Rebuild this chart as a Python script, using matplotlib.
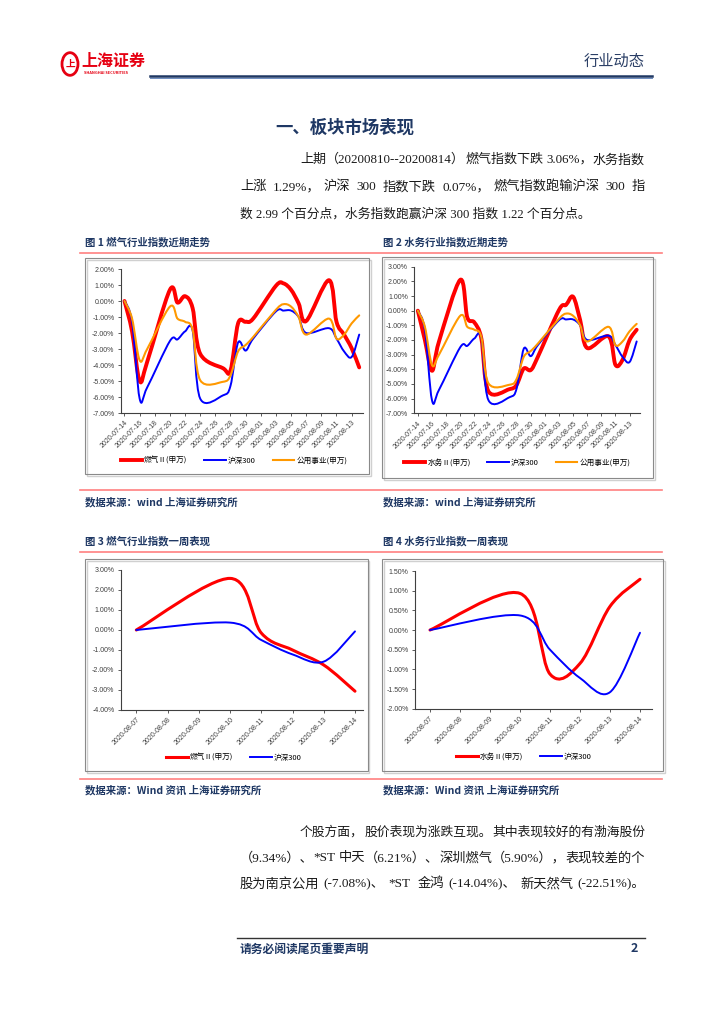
import matplotlib
matplotlib.use("Agg")
import matplotlib.pyplot as plt
import matplotlib.dates as mdates
from matplotlib.path import Path
from matplotlib.patches import PathPatch, Rectangle, Circle
from matplotlib.lines import Line2D
from matplotlib.ticker import FuncFormatter
from matplotlib.font_manager import FontProperties
import numpy as np
import pandas as pd

plt.rcParams['font.family'] = ['Noto Sans CJK SC', 'DejaVu Sans']

W, H = 724, 1024

# ---------------- data (涨跌幅, %) ----------------
month_dates = ['2020-07-14', '2020-07-15', '2020-07-16', '2020-07-17', '2020-07-20',
               '2020-07-21', '2020-07-22', '2020-07-23', '2020-07-24', '2020-07-27',
               '2020-07-28', '2020-07-29', '2020-07-30', '2020-07-31', '2020-08-03',
               '2020-08-04', '2020-08-05', '2020-08-06', '2020-08-07', '2020-08-10',
               '2020-08-11', '2020-08-12', '2020-08-13', '2020-08-14']
gas_month = [0, -1.9, -5.0, -3.8, 0.7, -0.1, 0.3, -0.45, -3.3, -4.2, -4.35, -1.4,
             -1.3, -1.1, 0.95, 1.1, 0.7, -0.15, -1.25, 1.3, -1.3, -2.1, -2.95, -4.15]
water_month = [0, -2.0, -4.1, -2.1, 2.1, -0.45, -0.8, -1.9, -5.5, -5.35, -5.05, -3.95,
               -4.05, -3.15, 0.05, 0.4, 0.95, -0.65, -2.55, -1.75, -3.7, -3.35, -2.0, -1.3]
hs300_month = [0, -1.3, -6.1, -5.4, -2.5, -2.4, -1.9, -1.85, -6.1, -5.9, -5.3, -2.6,
               -3.1, -2.35, -0.65, -0.6, -0.6, -1.0, -2.0, -1.7, -2.35, -3.15, -3.5, -2.1]
utility_month = [0, -1.1, -3.7, -3.0, -0.35, -1.1, -1.3, -1.8, -4.95, -5.05, -4.65, -3.15,
                 -2.75, -2.25, -0.55, -0.2, -0.35, -1.0, -2.1, -1.1, -2.35, -2.1, -1.4, -0.9]
month_ticks = ['2020-07-14', '2020-07-16', '2020-07-18', '2020-07-20', '2020-07-22',
               '2020-07-24', '2020-07-26', '2020-07-28', '2020-07-30', '2020-08-01',
               '2020-08-03', '2020-08-05', '2020-08-07', '2020-08-09', '2020-08-11',
               '2020-08-13']

week_dates = ['2020-08-07', '2020-08-10', '2020-08-11', '2020-08-12', '2020-08-13', '2020-08-14']
gas_week = [0, 2.58, -0.15, -1.0, -1.75, -3.06]
water_week = [0, 0.93, -1.12, -0.85, 0.6, 1.29]
hs300_week = [0, 0.37, -0.5, -1.22, -1.58, -0.07]
week_ticks = ['2020-08-07', '2020-08-08', '2020-08-09', '2020-08-10', '2020-08-11',
              '2020-08-12', '2020-08-13', '2020-08-14']

RED, BLUE, ORANGE = '#ff0000', '#0000ff', '#ff9900'
NAVY = '#1f3864'
PINK = '#ff8080'
BODY = ['Liberation Serif', 'Noto Sans CJK SC']
PUNCT = '，、。）；：'

fig = plt.figure(figsize=(7.24, 10.24), dpi=100)


def fx(x):
    return x / W


def fy(y):
    return 1 - y / H


def rect(l, t, r, b):
    return [l / W, 1 - b / H, (r - l) / W, (b - t) / H]


def hline(x0, x1, y, color, lw):
    fig.add_artist(Line2D([fx(x0), fx(x1)], [fy(y), fy(y)], color=color, lw=lw))


def box(l, t, r, b):
    fig.add_artist(Rectangle((fx(l + 1.5), fy(b + 1.5)), (r - l) / W, (b - t) / H,
                             transform=fig.transFigure, fill=False, edgecolor='#d0d0d0', lw=1))
    fig.add_artist(Rectangle((fx(l), fy(b)), (r - l) / W, (b - t) / H,
                             transform=fig.transFigure, fill=False, edgecolor='#8a8a8a', lw=0.8))


def smooth(ax, x, y, color, lw):
    # excel 风格平滑线 (Catmull-Rom -> Bezier)
    p = np.column_stack([np.asarray(x, float), np.asarray(y, float)])
    ext = np.vstack([p[0], p, p[-1]])
    verts, codes = [p[0]], [Path.MOVETO]
    for i in range(len(p) - 1):
        c1 = p[i] + (ext[i + 2] - ext[i]) / 6
        c2 = p[i + 1] - (ext[i + 3] - ext[i + 1]) / 6
        verts += [c1, c2, p[i + 1]]
        codes += [Path.CURVE4] * 3
    ax.add_patch(PathPatch(Path(verts, codes), fill=False, edgecolor=color, lw=lw,
                           capstyle='round', joinstyle='round'))


def chart(pos, dates, series, ylim, ystep, ticks, xpad, leg_xy, leg_gap):
    ax = fig.add_axes(pos)
    x = mdates.date2num(pd.to_datetime(dates))
    for vals, color, lw, _ in series:
        smooth(ax, x, vals, color, lw)
    ax.set_xlim(x[0] - 0.5, x[-1] + xpad)
    ax.set_ylim(*ylim)
    ax.set_yticks(np.arange(ylim[0], ylim[1] + ystep / 2, ystep))
    ax.yaxis.set_major_formatter(FuncFormatter(lambda v, _: f'{v:.2f}%'))
    ax.set_xticks(mdates.date2num(pd.to_datetime(ticks)))
    ax.set_xticklabels(ticks, rotation=45, ha='right', rotation_mode='anchor')
    for s in ['top', 'right']:
        ax.spines[s].set_visible(False)
    for s in ['left', 'bottom']:
        ax.spines[s].set_color('#404040')
        ax.spines[s].set_linewidth(0.8)
    ax.tick_params(labelsize=5, length=2.5, width=0.6, colors='#404040', pad=2)
    for lab in ax.get_xticklabels() + ax.get_yticklabels():
        lab.set_family(['Liberation Sans', 'DejaVu Sans'])
    handles = [Line2D([], [], color=c, lw=lw) for _, c, lw, _ in series]
    labels = [n for _, _, _, n in series]
    ax.legend(handles, labels, loc='center', bbox_to_anchor=(fx(leg_xy[0]), fy(leg_xy[1])),
              bbox_transform=fig.transFigure, ncol=len(series), frameon=False,
              fontsize=5.5, handlelength=2.8, handletextpad=0.3, columnspacing=leg_gap)
    return ax


def split_chunks(s):
    chunks, spaced, cur = [], [], ''
    for i, ch in enumerate(s):
        if ch == ' ':
            if cur:
                chunks.append(cur)
                spaced.append(True)
                cur = ''
            continue
        if ch in '(（' and cur and cur[-1] not in '(（':
            chunks.append(cur)
            spaced.append(False)
            cur = ''
        cur += ch
        nxt = s[i + 1] if i + 1 < len(s) else ''
        if ch in PUNCT and nxt and nxt not in PUNCT and nxt not in ' (（':
            chunks.append(cur)
            spaced.append(False)
            cur = ''
    if cur:
        chunks.append(cur)
    return chunks, spaced[:len(chunks) - 1]


def justify(s, x0, x1, y, size=9.2):
    # 两端对齐：在空格与标点处分段，余量均匀分配；必要时微调字号
    r = fig.canvas.get_renderer()
    chunks, spaced = split_chunks(s)
    target = x1 - x0
    n = len(chunks)

    def measure(sz):
        prop = FontProperties(family=BODY, size=sz)
        ws = [r.get_text_width_height_descent(c, prop, ismath=False)[0] for c in chunks]
        base = sum(spaced) * sz * 100 / 72 * 0.25
        return prop, ws, base

    prop, widths, base = measure(size)
    need = target / (sum(widths) + base)
    if n == 1:
        scale = min(max(need, 0.9), 1.1)
    elif need < 1:
        scale = need
    else:
        scale = min(need, 1.04)
    prop, widths, base = measure(size * scale)
    sp = size * scale * 100 / 72 * 0.25
    extra = (target - sum(widths) - base) / max(n - 1, 1)
    xc = x0
    for k, (c, w) in enumerate(zip(chunks, widths)):
        fig.text(fx(xc), fy(y), c, fontproperties=prop, color='#1a1a1a', va='center', ha='left')
        xc += w + extra + (sp if k < len(spaced) and spaced[k] else 0)


# ---------------- header ----------------
fig.add_artist(Circle((fx(70), fy(64)), 8 / W, transform=fig.transFigure,
                      fill=False, edgecolor='#e60012', lw=2))
fig.text(fx(70), fy(64), '上', color='#e60012', fontsize=7, fontweight='bold',
         ha='center', va='center')
fig.text(fx(81), fy(61), '上海证券', color='#e60012', fontsize=11.5, fontweight='bold',
         ha='left', va='center')
fig.text(fx(84), fy(73), 'SHANGHAI SECURITIES', color='#e60012', fontsize=2.8,
         fontweight='bold', ha='left', va='center')
fig.text(fx(645), fy(61), '行业动态', color='#2b3f66', fontsize=11, ha='right', va='center')
hline(150, 652, 75.5, NAVY, 1.8)
hline(150, 652, 77.5, '#6d8cc0', 0.7)

# ---------------- text ----------------
fig.text(fx(275), fy(128), '一、板块市场表现', color=NAVY, fontsize=12.5, fontweight='bold',
         ha='left', va='center')
justify('上期（20200810--20200814）燃气指数下跌 3.06%，水务指数', 300, 645, 160)
justify('上涨 1.29%，沪深 300 指数下跌 0.07%，燃气指数跑输沪深 300 指', 240, 645, 187)
fig.text(fx(240), fy(214), '数 2.99 个百分点，水务指数跑赢沪深 300 指数 1.22 个百分点。',
         family=BODY, fontsize=9.2, color='#1a1a1a', ha='left', va='center')

fig.text(fx(85), fy(242), '图 1 燃气行业指数近期走势', color=NAVY, fontsize=7.5,
         fontweight='bold', ha='left', va='center')
fig.text(fx(383), fy(242), '图 2 水务行业指数近期走势', color=NAVY, fontsize=7.5,
         fontweight='bold', ha='left', va='center')
hline(80, 662, 253, PINK, 1.2)

box(85, 258, 369, 474)
box(382, 257, 653, 478)

chart(rect(120.7, 269, 363, 413), month_dates,
      [(gas_month, RED, 2.8, '燃气Ⅱ(申万)'), (hs300_month, BLUE, 1.4, '沪深300'),
       (utility_month, ORANGE, 1.5, '公用事业(申万)')],
      (-7, 2), 1, month_ticks, 0.5, (234, 461), 2.2)
chart(rect(414.3, 266.7, 640.2, 413.3), month_dates,
      [(water_month, RED, 2.8, '水务Ⅱ(申万)'), (hs300_month, BLUE, 1.4, '沪深300'),
       (utility_month, ORANGE, 1.5, '公用事业(申万)')],
      (-7, 3), 1, month_ticks, 0.5, (517, 463), 2.2)

hline(80, 662, 490, PINK, 1.2)
fig.text(fx(85), fy(502), '数据来源：wind 上海证券研究所', color=NAVY, fontsize=7.5,
         fontweight='bold', style='italic', ha='left', va='center')
fig.text(fx(383), fy(502), '数据来源：wind 上海证券研究所', color=NAVY, fontsize=7.5,
         fontweight='bold', style='italic', ha='left', va='center')

fig.text(fx(85), fy(541), '图 3 燃气行业指数一周表现', color=NAVY, fontsize=7.5,
         fontweight='bold', ha='left', va='center')
fig.text(fx(383), fy(541), '图 4 水务行业指数一周表现', color=NAVY, fontsize=7.5,
         fontweight='bold', ha='left', va='center')
hline(80, 662, 552, PINK, 1.2)

box(85, 559, 368, 771)
box(382, 559, 663, 771)

chart(rect(120.7, 570, 362.8, 710), week_dates,
      [(gas_week, RED, 2.2, '燃气Ⅱ(申万)'), (hs300_week, BLUE, 1.4, '沪深300')],
      (-4, 3), 1, week_ticks, 0.25, (234, 758), 2.2)
chart(rect(415, 571, 652, 708.7), week_dates,
      [(water_week, RED, 2.2, '水务Ⅱ(申万)'), (hs300_week, BLUE, 1.4, '沪深300')],
      (-2, 1.5), 0.5, week_ticks, 0.4, (524, 757), 2.2)

hline(80, 662, 779, PINK, 1.2)
fig.text(fx(85), fy(790), '数据来源：Wind 资讯 上海证券研究所', color=NAVY, fontsize=7.5,
         fontweight='bold', style='italic', ha='left', va='center')
fig.text(fx(383), fy(790), '数据来源：Wind 资讯 上海证券研究所', color=NAVY, fontsize=7.5,
         fontweight='bold', style='italic', ha='left', va='center')

justify('个股方面，股价表现为涨跌互现。其中表现较好的有渤海股份', 300, 645, 832)
justify('（9.34%）、*ST 中天（6.21%）、深圳燃气（5.90%），表现较差的个', 240, 645, 858)
justify('股为南京公用(-7.08%)、*ST 金鸿(-14.04%)、新天然气(-22.51%)。', 240, 645, 884)

# ---------------- footer ----------------
hline(237, 645, 938, '#333333', 1.0)
fig.text(fx(240), fy(949), '请务必阅读尾页重要声明', color=NAVY, fontsize=8.5,
         fontweight='bold', ha='left', va='center')
fig.text(fx(634), fy(949), '2', color=NAVY, fontsize=9, fontweight='bold',
         ha='center', va='center')

fig.savefig('out.png', dpi=100)
